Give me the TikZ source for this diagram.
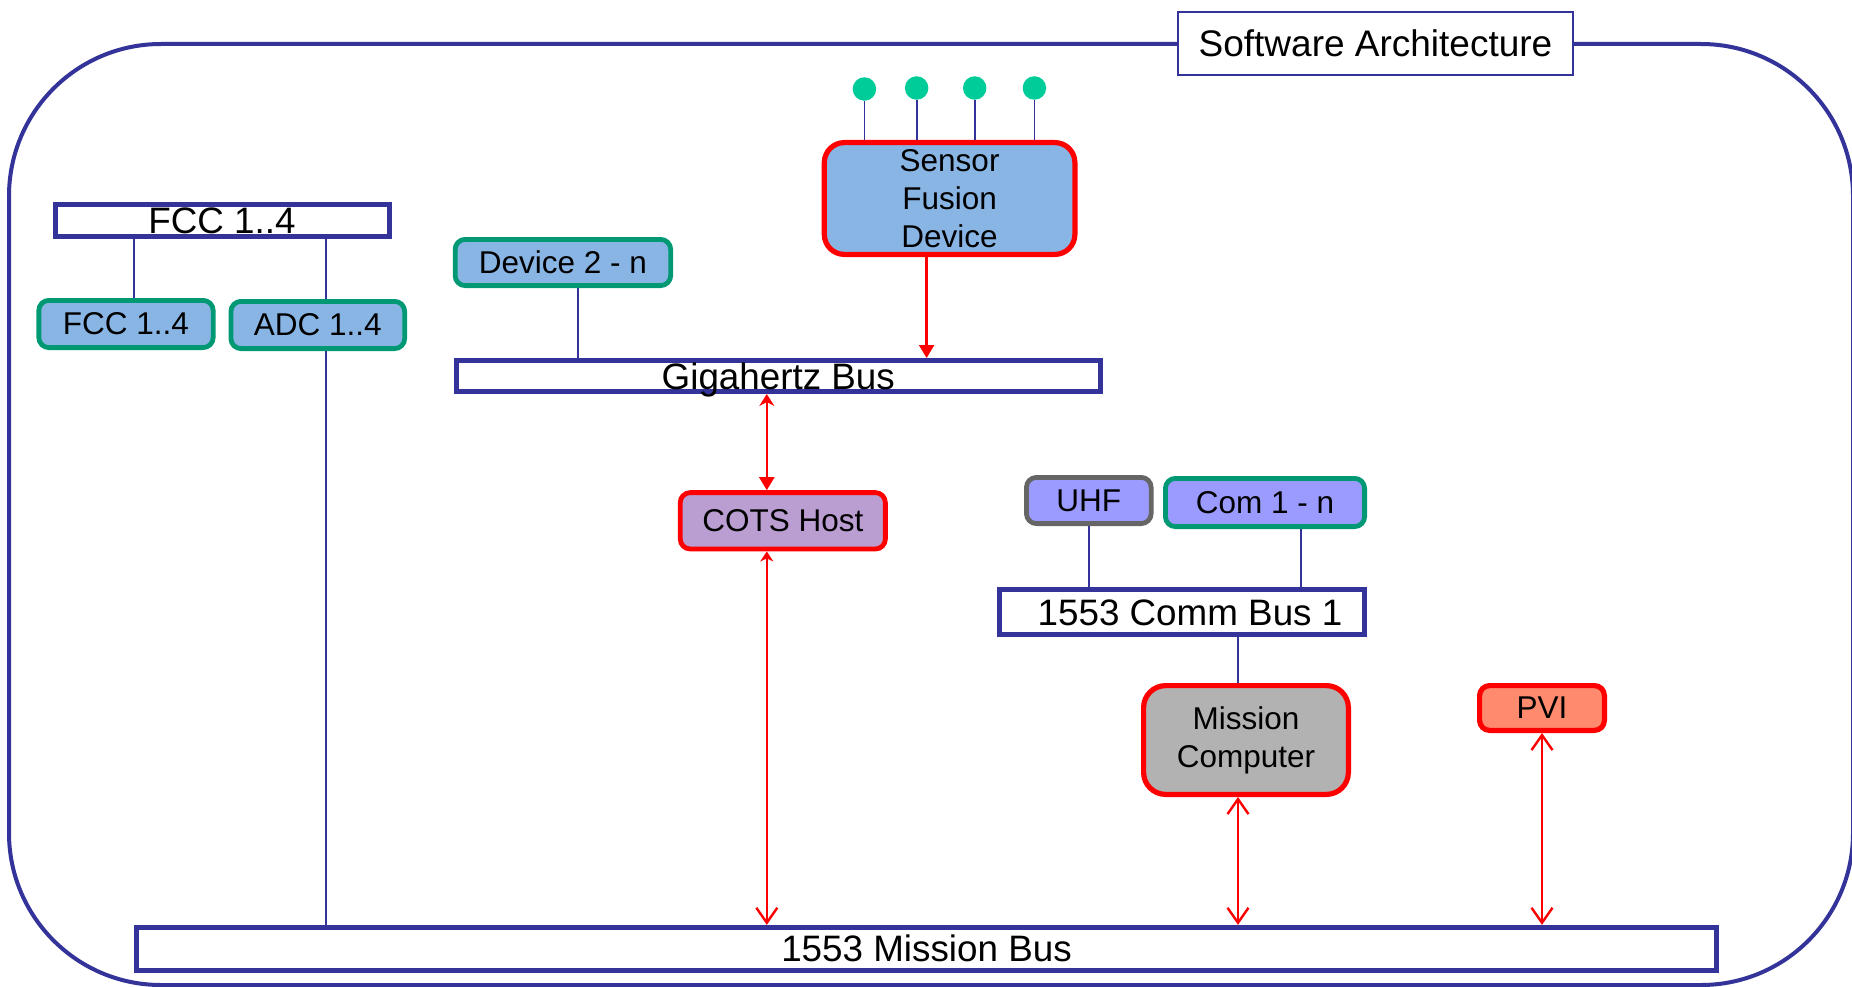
\documentclass[tikz,border=0pt]{standalone}
\usepackage{fontspec}
\setmainfont{Liberation Sans}
\usetikzlibrary{arrows.meta}
\definecolor{navy}{RGB}{51,51,153}
\definecolor{grn}{RGB}{0,153,115}
\definecolor{lblue}{RGB}{137,181,229}
\definecolor{lav}{RGB}{186,158,210}
\definecolor{peri}{RGB}{155,155,255}
\definecolor{mgray}{RGB}{178,178,178}
\definecolor{salmon}{RGB}{255,138,110}
\definecolor{dotgreen}{RGB}{0,204,153}
\definecolor{uhfgray}{RGB}{102,102,102}
\tikzset{
  bus/.style={draw=navy, line width=5pt, fill=white, inner sep=0pt, text height=26.5pt, text depth=0pt, font=\fontsize{36.8}{44}\selectfont},
  box/.style={rounded corners=10pt, inner sep=0pt, align=center, font=\fontsize{31.5}{38}\selectfont},
  greenbox/.style={box, draw=grn, line width=4.8pt, fill=lblue},
  redbox/.style={box, draw=red, line width=5.2pt},
  titlebox/.style={draw=navy, line width=2pt, fill=white, inner sep=0pt, font=\fontsize{37}{44}\selectfont},
  dot/.style={circle, fill=dotgreen, inner sep=0pt, minimum size=23.5pt},
  link/.style={navy, line width=1.8pt},
  rarrow/.style={red, line width=2.4pt},
  tri/.tip={Triangle[length=13pt,width=15pt]},
  stl/.tip={Stealth[length=12pt,width=15pt,inset=4pt]},
  barb/.tip={Straight Barb[length=15pt,width=21pt,line width=2.4pt]}
}
\begin{document}
\begin{tikzpicture}[x=1pt,y=-1pt]
\useasboundingbox (0,0) rectangle (1852,987);
% outer frame
\draw[navy, line width=4pt, rounded corners=152pt] (9,44) rectangle (1853,985);
\node[titlebox, minimum width=395pt, minimum height=63pt] (title) at (1375.5,43.5) {Software Architecture};

% buses
\node[bus, minimum width=334pt, minimum height=32pt] (fccbar) at (222,220.5) {FCC 1..4};
\node[bus, minimum width=644.5pt, minimum height=31pt] (gig) at (778.3,376) {Gigahertz Bus};
\node[bus, minimum width=365pt, minimum height=45.5pt] (comm) at (1182,612) {\hspace*{16pt}1553 Comm Bus 1};
\node[bus, minimum width=1580pt, minimum height=42.7pt] (mbus) at (926.5,948.7) {1553 Mission Bus};

% boxes
\node[greenbox, minimum width=174.3pt, minimum height=47.2pt] (fccs) at (126,324) {FCC 1..4};
\node[greenbox, minimum width=173.7pt, minimum height=47.2pt] (adc) at (317.8,325) {ADC 1..4};
\node[greenbox, minimum width=215.5pt, minimum height=46.2pt] (dev) at (562.9,262.5) {Device 2 - n};
\node[redbox, fill=lblue, rounded corners=20pt, minimum width=250.6pt, minimum height=111.8pt] (sfd) at (949.6,198.5) {Sensor\\Fusion\\Device};
\node[redbox, fill=lav, line width=4.8pt, minimum width=205.1pt, minimum height=56.4pt] (cots) at (782.8,520.8) {COTS Host};
\node[box, draw=uhfgray, line width=4.8pt, fill=peri, minimum width=124.7pt, minimum height=46.2pt] (uhf) at (1088.8,500.5) {UHF};
\node[box, draw=grn, line width=4.8pt, fill=peri, minimum width=199.2pt, minimum height=48.2pt] (com) at (1265,502.5) {Com 1 - n};
\node[redbox, fill=mgray, rounded corners=22pt, minimum width=204.8pt, minimum height=108.8pt] (mc) at (1246,740) {Mission\\Computer};
\node[redbox, fill=salmon, minimum width=124.8pt, minimum height=44.8pt] (pvi) at (1542,708) {PVI};

% sensor dots
\node[dot] (d1) at (864.4,89) {};
\node[dot] (d2) at (916.6,88) {};
\node[dot] (d3) at (974.7,88) {};
\node[dot] (d4) at (1034.4,88) {};
\foreach \d in {d1,d2,d3,d4}
  \draw[link] (\d.south) -- (\d.south |- sfd.north);

% blue links
\draw[link] ([xshift=7.6pt]fccs.north) -- ([xshift=7.6pt]fccs.north |- fccbar.south);
\draw[link] ([xshift=8pt]adc.north) -- ([xshift=8pt]adc.north |- fccbar.south);
\draw[link] ([xshift=8pt]adc.south) -- ([xshift=8pt]adc.south |- mbus.north);
\draw[link] ([xshift=15pt]dev.south) -- ([xshift=15pt]dev.south |- gig.north);
\draw[link] (uhf.south) -- (uhf.south |- comm.north);
\draw[link] ([xshift=36pt]com.south) -- ([xshift=36pt]com.south |- comm.north);
\draw[link] ([xshift=-8pt]mc.north) -- ([xshift=-8pt]mc.north |- comm.south);

% red arrows
\draw[rarrow, -tri] ([xshift=-23pt]sfd.south) -- ([xshift=-23pt]sfd.south |- gig.north);
\draw[rarrow, stl-tri] ([xshift=-16pt]cots.north |- gig.south) -- ([xshift=-16pt]cots.north);
\draw[rarrow, {Stealth[length=10pt,width=13pt,inset=3pt]}-barb] ([xshift=-16pt]cots.south) -- ([xshift=-16pt]cots.south |- mbus.north);
\draw[rarrow, barb-barb] ([xshift=-8pt]mc.south) -- ([xshift=-8pt]mc.south |- mbus.north);
\draw[rarrow, barb-barb] (pvi.south) -- (pvi.south |- mbus.north);
\end{tikzpicture}
\end{document}
